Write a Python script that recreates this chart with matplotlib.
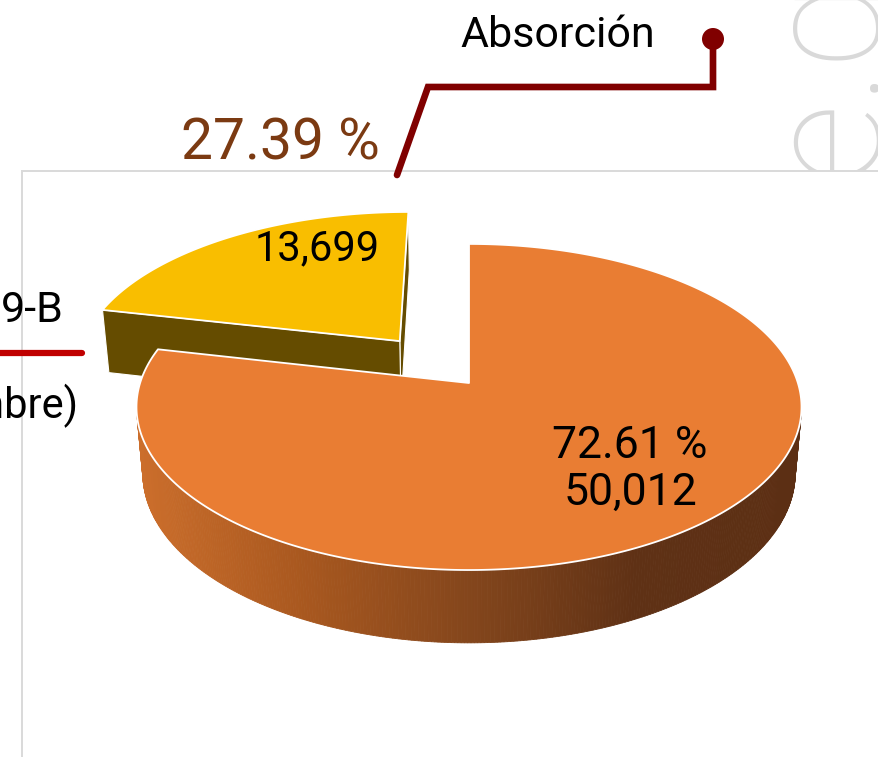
import numpy as np
import matplotlib
matplotlib.use("Agg")
import matplotlib.pyplot as plt
from matplotlib.patches import Polygon, Rectangle, Circle
from matplotlib.colors import LinearSegmentedColormap

# ---------------- data ----------------
categories = ["Absorción", "Resto"]
values = [13699, 50012]
value_labels = ["13,699", "50,012"]
pct_labels = ["27.39 %", "72.61 %"]
explode = [0.35, 0.0]

# ---------------- style ----------------
top_colors = ["#F9BE00", "#E97D33"]
side_colors = ["#654C00", None]
wall_cmap = LinearSegmentedColormap.from_list(
    "wall", ["#CD6F2C", "#A9581F", "#84461C", "#5F3115", "#5C2F14"])

FONT = ["Roboto", "DejaVu Sans"]

W, H = 879, 757
fig = plt.figure(figsize=(W / 100, H / 100), dpi=100)
ax = fig.add_axes([0, 0, 1, 1])
ax.set_xlim(0, W)
ax.set_ylim(H, 0)
ax.axis("off")

# watermark (behind plot area)
ax.text(871, 261, "de.gob.mx", rotation=90, rotation_mode="anchor",
        ha="left", va="baseline", fontsize=115, color="#D9D9D9",
        family=FONT, fontweight="light", zorder=0)

# plot area
ax.add_patch(Rectangle((22, 171), 1000, 700, facecolor="white",
                       edgecolor="#D9D9D9", lw=1.4, zorder=1))

# ---------------- pseudo 3-D pie projection ----------------
cx, cy = 469.0, 383.0
foc, d0 = 1957.0, 5.95
ce, se = 0.875, 0.485
thick = 0.233
cam = np.array([0.0, -d0 * ce, d0 * se])


def proj(X, Y, Z):
    depth = d0 + Y * ce - Z * se
    return cx + foc * X / depth, cy - foc * (Y * se + Z * ce) / depth


total = float(sum(values))
angles = [90.0]
for v in values:
    angles.append(angles[-1] + 360.0 * v / total)

Z0 = 2
for i, v in enumerate(values):
    a0, a1 = np.radians(angles[i]), np.radians(angles[i + 1])
    mid = 0.5 * (a0 + a1)
    ox, oy = explode[i] * np.cos(mid), explode[i] * np.sin(mid)
    ts = np.linspace(a0, a1, max(int(np.degrees(a1 - a0)), 2) * 2)
    z = Z0 + i * 10

    # outer wall quads (front-facing only)
    for k in range(len(ts) - 1):
        t0, t1 = ts[k], ts[k + 1]
        tm = 0.5 * (t0 + t1)
        P = np.array([ox + np.cos(tm), oy + np.sin(tm), 0.0])
        nrm = np.array([np.cos(tm), np.sin(tm), 0.0])
        if np.dot(nrm, cam - P) <= 0:
            continue
        q = [proj(ox + np.cos(t0), oy + np.sin(t0), 0),
             proj(ox + np.cos(t1), oy + np.sin(t1), 0),
             proj(ox + np.cos(t1), oy + np.sin(t1), -thick),
             proj(ox + np.cos(t0), oy + np.sin(t0), -thick)]
        xm = np.mean([p[0] for p in q])
        if side_colors[i] is None:
            col = wall_cmap(np.clip((xm - (cx - 335)) / 670.0, 0, 1))
        else:
            col = side_colors[i]
        ax.add_patch(Polygon(q, closed=True, facecolor=col, edgecolor=col,
                             lw=0.6, zorder=z))

    # radial cut faces
    for t, sgn in ((a0, -1), (a1, 1)):
        nrm = np.array([np.cos(t + sgn * np.pi / 2), np.sin(t + sgn * np.pi / 2), 0.0])
        P = np.array([ox + 0.5 * np.cos(t), oy + 0.5 * np.sin(t), 0.0])
        if np.dot(nrm, cam - P) <= 0:
            continue
        q = [proj(ox, oy, 0), proj(ox + np.cos(t), oy + np.sin(t), 0),
             proj(ox + np.cos(t), oy + np.sin(t), -thick), proj(ox, oy, -thick)]
        col = side_colors[i] if side_colors[i] else "#5C2F14"
        ax.add_patch(Polygon(q, closed=True, facecolor=col, edgecolor="white",
                             lw=0.8, zorder=z + 1))

    # top face
    top = [proj(ox, oy, 0)] + [proj(ox + np.cos(t), oy + np.sin(t), 0) for t in ts]
    ax.add_patch(Polygon(top, closed=True, facecolor=top_colors[i],
                         edgecolor="white", lw=1.3, joinstyle="round", zorder=z + 2))

# ---------------- labels ----------------
ax.text(255, 260, value_labels[0], fontsize=30, color="black", family=FONT,
        ha="left", va="baseline", zorder=30)
ax.text(630, 458, pct_labels[1], fontsize=32, color="black", family=FONT,
        ha="center", va="baseline", zorder=30)
ax.text(630, 505, value_labels[1], fontsize=32, color="black", family=FONT,
        ha="center", va="baseline", zorder=30)

ax.text(181, 159, pct_labels[0], fontsize=41, color="#7B3A12", family=FONT,
        ha="left", va="baseline", zorder=30)
ax.text(460, 47, categories[0], fontsize=31, color="black", family=FONT,
        ha="left", va="baseline", zorder=30)

# callout line
ax.plot([397, 428, 713, 713], [175, 87, 87, 40], color="#800000", lw=4.8,
        solid_capstyle="round", solid_joinstyle="miter", zorder=31)
ax.add_patch(Circle((713, 39), 11, facecolor="#800000", edgecolor="none", zorder=32))

# left legend fragment
ax.text(64, 322, "9-B", fontsize=31, color="black", family=FONT,
        ha="right", va="baseline", zorder=30)
ax.plot([-10, 82], [353, 353], color="#C00000", lw=4.5,
        solid_capstyle="round", zorder=30)
ax.text(78, 418, "(Diciembre)", fontsize=30, color="black", family=FONT,
        ha="right", va="baseline", zorder=30)

fig.savefig("out.png", dpi=100)
